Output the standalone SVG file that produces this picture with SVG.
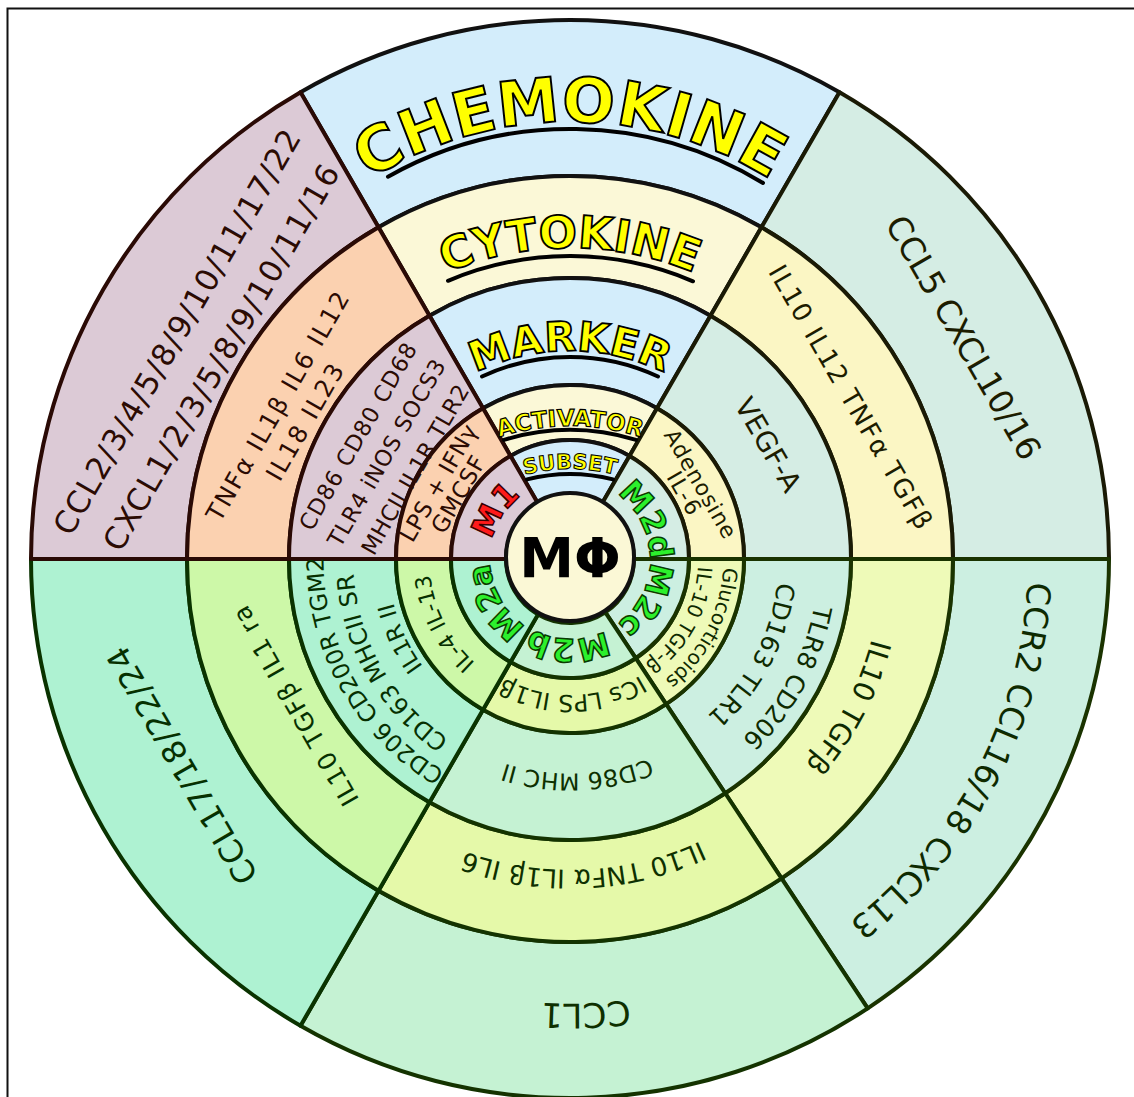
<svg xmlns="http://www.w3.org/2000/svg" width="1134" height="1097" viewBox="0 0 1134 1097">
<style>
.cell{stroke-width:4;stroke-linejoin:round}
.t{font-family:"DejaVu Sans","Liberation Sans",sans-serif;text-anchor:middle}
.hd{font-family:"DejaVu Sans","Liberation Sans",sans-serif;font-weight:bold;fill:#ffff00;stroke:#000;text-anchor:middle}
.ul{fill:none;stroke:#000;stroke-width:4;stroke-linecap:round}
.lab{font-family:"DejaVu Sans","Liberation Sans",sans-serif;font-weight:bold;font-size:32px;text-anchor:middle;stroke-width:1.5}
.lm1{fill:#ff1a1a;stroke:#3a0000}
.lm2{fill:#2cf02c;stroke:#0b3a00}
.cM1{fill:#2b0b03}.cM2d{fill:#1c1c00}.cM2a{fill:#063000}.cM2b{fill:#0e3000}.cM2c{fill:#0e2a00}
</style>
<defs>
<path id="pChem" d="M 192 500 A 378 378 0 0 1 948 500"/>
<path id="pCyto" d="M 250 568 A 320 320 0 0 1 890 568"/>
<path id="pMark" d="M 355 566 A 215 215 0 0 1 785 566"/>
<path id="pActi" d="M 340 656 A 230 230 0 0 1 800 656"/>
<path id="pSubs" d="M 390 649 A 180 180 0 0 1 750 649"/>
<path id="aM1" d="M 515.4 617.5 A 80 80 0 0 1 601.3 485.4"/>
<path id="aM2d" d="M 546.6 482.5 A 80 80 0 0 1 618.1 622.9"/>
<path id="aM2c" d="M 619.3 496 A 80 80 0 0 1 545.3 635.1"/>
<path id="aM2b" d="M 648.5 574.3 A 80 80 0 0 1 491 571.5"/>
<path id="aM2a" d="M 597.4 634.2 A 80 80 0 0 1 518.6 497.7"/>
<path id="a2aL1" d="M 652.3 791.4 A 246.6 246.6 0 0 1 413.1 368.7"/>
<path id="a2aL2" d="M 644.2 762.9 A 217 217 0 0 1 430.5 392.8"/>
<path id="a2aL3" d="M 617.1 734.8 A 182 182 0 0 1 465.6 409.9"/>
<path id="a2aAct" d="M 611.1 693.5 A 140.7 140.7 0 0 1 485.3 446.6"/>
<path id="a2bChe" d="M 1010.3 620.9 A 444.6 444.6 0 0 1 135.1 651.4"/>
<path id="a2bCyt" d="M 878.3 599.6 A 311 311 0 0 1 266.4 626.3"/>
<path id="a2bMar" d="M 782.5 588.9 A 214.6 214.6 0 0 1 360.1 603.6"/>
<path id="a2bAct" d="M 704.3 580.3 A 136 136 0 0 1 436.5 585"/>
<path id="a2cChe" d="M 850.1 196.6 A 458 458 0 0 1 430.8 995.3"/>
<path id="a2cCyt" d="M 762.1 313.1 A 312 312 0 0 1 473.6 855.7"/>
<path id="a2cMar1" d="M 724.7 364.5 A 248.5 248.5 0 0 1 491.1 794.7"/>
<path id="a2cMar2" d="M 697.5 394 A 208.5 208.5 0 0 1 506.6 757.6"/>
<path id="a2cAct1" d="M 663.4 437.3 A 153.4 153.4 0 0 1 523.9 705.3"/>
<path id="a2cAct2" d="M 650.6 459.5 A 128 128 0 0 1 528.3 680"/>
</defs>
<rect width="1134" height="1097" fill="#ffffff"/>
<rect x="7.5" y="8.5" width="1140" height="1100" fill="none" stroke="#111" stroke-width="2"/>

<g id="sector-header" class="cell" stroke="#111">
<path fill="#d3edfb" d="M 300.5 92.23 A 539 539 0 0 1 839.5 92.23 L 761.5 227.32 A 383 383 0 0 0 378.5 227.32 Z"/>
<path fill="#fbf8d7" d="M 378.5 227.32 A 383 383 0 0 1 761.5 227.32 L 710.5 315.65 A 281 281 0 0 0 429.5 315.65 Z"/>
<path fill="#d3edfb" d="M 429.5 315.65 A 281 281 0 0 1 710.5 315.65 L 657 408.31 A 174 174 0 0 0 483 408.31 Z"/>
<path fill="#fbf8d7" d="M 483 408.31 A 174 174 0 0 1 657 408.31 L 629.5 455.94 A 119 119 0 0 0 510.5 455.94 Z"/>
<path fill="#d3edfb" d="M 510.5 455.94 A 119 119 0 0 1 629.5 455.94 L 602 503.57 A 64 64 0 0 0 538 503.57 Z"/>
</g>
<g id="sector-m2d" class="cell" stroke="#1a1a05">
<path fill="#d5ede4" d="M 839.5 92.23 A 539 539 0 0 1 1109 559 L 953 559 A 383 383 0 0 0 761.5 227.32 Z"/>
<path fill="#fbf6c4" d="M 761.5 227.32 A 383 383 0 0 1 953 559 L 851 559 A 281 281 0 0 0 710.5 315.65 Z"/>
<path fill="#d5ede4" d="M 710.5 315.65 A 281 281 0 0 1 851 559 L 744 559 A 174 174 0 0 0 657 408.31 Z"/>
<path fill="#fbf6c4" d="M 657 408.31 A 174 174 0 0 1 744 559 L 689 559 A 119 119 0 0 0 629.5 455.94 Z"/>
<path fill="#d5ede4" d="M 629.5 455.94 A 119 119 0 0 1 689 559 L 634 559 A 64 64 0 0 0 602 503.57 Z"/>
</g>
<g id="sector-m2c" class="cell" stroke="#1a3300">
<path fill="#ccefe1" d="M 1109 559 A 539 539 0 0 1 867.69 1008.36 L 781.53 878.31 A 383 383 0 0 0 953 559 Z"/>
<path fill="#eefab8" d="M 953 559 A 383 383 0 0 1 781.53 878.31 L 725.2 793.27 A 281 281 0 0 0 851 559 Z"/>
<path fill="#ccefe1" d="M 851 559 A 281 281 0 0 1 725.2 793.27 L 666.1 704.06 A 174 174 0 0 0 744 559 Z"/>
<path fill="#eefab8" d="M 744 559 A 174 174 0 0 1 666.1 704.06 L 635.72 658.21 A 119 119 0 0 0 689 559 Z"/>
<path fill="#ccefe1" d="M 689 559 A 119 119 0 0 1 635.72 658.21 L 605.35 612.36 A 64 64 0 0 0 634 559 Z"/>
</g>
<g id="sector-m2b" class="cell" stroke="#143300">
<path fill="#c5f2d3" d="M 867.69 1008.36 A 539 539 0 0 1 300.5 1025.77 L 378.5 890.68 A 383 383 0 0 0 781.53 878.31 Z"/>
<path fill="#e5f9a9" d="M 781.53 878.31 A 383 383 0 0 1 378.5 890.68 L 429.5 802.35 A 281 281 0 0 0 725.2 793.27 Z"/>
<path fill="#c5f2d3" d="M 725.2 793.27 A 281 281 0 0 1 429.5 802.35 L 483 709.69 A 174 174 0 0 0 666.1 704.06 Z"/>
<path fill="#e5f9a9" d="M 666.1 704.06 A 174 174 0 0 1 483 709.69 L 510.5 662.06 A 119 119 0 0 0 635.72 658.21 Z"/>
<path fill="#c5f2d3" d="M 635.72 658.21 A 119 119 0 0 1 510.5 662.06 L 538 614.43 A 64 64 0 0 0 605.35 612.36 Z"/>
</g>
<g id="sector-m2a" class="cell" stroke="#0a3300">
<path fill="#aef2d2" d="M 300.5 1025.77 A 539 539 0 0 1 31 559 L 187 559 A 383 383 0 0 0 378.5 890.68 Z"/>
<path fill="#cdf8a8" d="M 378.5 890.68 A 383 383 0 0 1 187 559 L 289 559 A 281 281 0 0 0 429.5 802.35 Z"/>
<path fill="#aef2d2" d="M 429.5 802.35 A 281 281 0 0 1 289 559 L 396 559 A 174 174 0 0 0 483 709.69 Z"/>
<path fill="#cdf8a8" d="M 483 709.69 A 174 174 0 0 1 396 559 L 451 559 A 119 119 0 0 0 510.5 662.06 Z"/>
<path fill="#aef2d2" d="M 510.5 662.06 A 119 119 0 0 1 451 559 L 506 559 A 64 64 0 0 0 538 614.43 Z"/>
</g>
<g id="sector-m1" class="cell" stroke="#2a0a05">
<path fill="#dccad6" d="M 31 559 A 539 539 0 0 1 300.5 92.23 L 378.5 227.32 A 383 383 0 0 0 187 559 Z"/>
<path fill="#fbd1b0" d="M 187 559 A 383 383 0 0 1 378.5 227.32 L 429.5 315.65 A 281 281 0 0 0 289 559 Z"/>
<path fill="#dccad6" d="M 289 559 A 281 281 0 0 1 429.5 315.65 L 483 408.31 A 174 174 0 0 0 396 559 Z"/>
<path fill="#fbd1b0" d="M 396 559 A 174 174 0 0 1 483 408.31 L 510.5 455.94 A 119 119 0 0 0 451 559 Z"/>
<path fill="#dccad6" d="M 451 559 A 119 119 0 0 1 510.5 455.94 L 538 503.57 A 64 64 0 0 0 506 559 Z"/>
</g>

<g id="labels-header">
<text class="hd" font-size="62" letter-spacing="0.5" stroke-width="2"><textPath href="#pChem" startOffset="50%">CHEMOKINE</textPath></text>
<path class="ul" d="M 388 176.7 A 371 371 0 0 1 763 183"/>
<text class="hd" font-size="45" stroke-width="1.8"><textPath href="#pCyto" startOffset="50%">CYTOKINE</textPath></text>
<path class="ul" d="M 448 280.8 A 313 313 0 0 1 693 281.3"/>
<text class="hd" font-size="41" stroke-width="1.8"><textPath href="#pMark" startOffset="50%">MARKER</textPath></text>
<path class="ul" d="M 482 376.5 A 208 208 0 0 1 658 376.5"/>
<text class="hd" font-size="23" stroke-width="1.2"><textPath href="#pActi" startOffset="50%">ACTIVATOR</textPath></text>
<path class="ul" d="M 504 439.9 A 226 226 0 0 1 636 439.9" stroke-width="3"/>
<text class="hd" font-size="21" stroke-width="1"><textPath href="#pSubs" startOffset="50%">SUBSET</textPath></text>
<path class="ul" d="M 527 479.4 A 175 175 0 0 1 613 479.4" stroke-width="2.5"/>
</g>

<g id="labels-m1" class="t cM1" transform="translate(570 559) rotate(-60)">
<text x="0" y="-443" font-size="31" textLength="462" lengthAdjust="spacing">CCL2/3/4/5/8/9/10/11/17/22</text>
<text x="0" y="-392" font-size="31" textLength="440" lengthAdjust="spacing">CXCL1/2/3/5/8/9/10/11/16</text>
<text x="-14" y="-321" font-size="24.5" textLength="260" lengthAdjust="spacing">TNFα IL1β IL6 IL12</text>
<text x="-14" y="-289.5" font-size="24.5" textLength="130" lengthAdjust="spacing">IL18 IL23</text>
<text x="0" y="-237" font-size="22.5" textLength="212" lengthAdjust="spacing">CD86 CD80 CD68</text>
<text x="0" y="-204" font-size="22.5" textLength="212" lengthAdjust="spacing">TLR4 iNOS SOCS3</text>
<text x="0" y="-171" font-size="22.5" textLength="192" lengthAdjust="spacing">MHCII IL1R TLR2</text>
<text x="0" y="-144" font-size="23" textLength="131" lengthAdjust="spacing">LPS + IFNγ</text>
<text x="0" y="-121" font-size="23" textLength="85" lengthAdjust="spacing">GMCSF</text>
</g>
<text class="lab lm1"><textPath href="#aM1" startOffset="50%">M1</textPath></text>

<g id="labels-m2d" class="t cM2d" transform="translate(570 559) rotate(60)">
<text x="5" y="-440" font-size="33">CCL5 CXCL10/16</text>
<text x="0" y="-315" font-size="26" textLength="300" lengthAdjust="spacing">IL10 IL12 TNFα TGFβ</text>
<text x="0" y="-219" font-size="28">VEGF-A</text>
<text x="0" y="-143" font-size="22" textLength="122" lengthAdjust="spacing">Adenosine</text>
<text x="0" y="-124" font-size="22" textLength="46" lengthAdjust="spacing">IL-6</text>
</g>
<text class="lab lm2"><textPath href="#aM2d" startOffset="50%">M2d</textPath></text>

<g id="labels-m2a" class="t cM2a">
<g transform="translate(570 559) rotate(240)">
<text x="15" y="-428" font-size="32" textLength="268" lengthAdjust="spacing">CCL17/18/22/24</text>
<text x="10" y="-302.5" font-size="25" textLength="226" lengthAdjust="spacing">IL10 TGFβ IL1 ra</text>
</g>
<text font-size="23.5"><textPath href="#a2aL1" startOffset="50%">CD206 CD200R TGM2</textPath></text>
<text font-size="24"><textPath href="#a2aL2" startOffset="50%">CD163 MHCII SR</textPath></text>
<text font-size="23"><textPath href="#a2aL3" startOffset="50%">IL1R II</textPath></text>
<text font-size="22"><textPath href="#a2aAct" startOffset="50%">IL-4 IL-13</textPath></text>
</g>
<text class="lab lm2"><textPath href="#aM2a" startOffset="50%">M2a</textPath></text>

<g id="labels-m2b" class="t cM2b">
<text font-size="34"><textPath href="#a2bChe" startOffset="50%">CCL1</textPath></text>
<text font-size="26"><textPath href="#a2bCyt" startOffset="50%">IL10 TNFα IL1β IL6</textPath></text>
<text font-size="23.5"><textPath href="#a2bMar" startOffset="50%">CD86 MHC II</textPath></text>
<text font-size="23.5"><textPath href="#a2bAct" startOffset="50%">ICs LPS IL1β</textPath></text>
</g>
<text class="lab lm2"><textPath href="#aM2b" startOffset="50%">M2b</textPath></text>

<g id="labels-m2c" class="t cM2c">
<text font-size="33"><textPath href="#a2cChe" startOffset="50%">CCR2 CCL16/18 CXCL13</textPath></text>
<text font-size="28.5"><textPath href="#a2cCyt" startOffset="50%">IL10 TGFβ</textPath></text>
<text font-size="25"><textPath href="#a2cMar1" startOffset="50%">TLR8 CD206</textPath></text>
<text font-size="25"><textPath href="#a2cMar2" startOffset="50%">CD163 TLR1</textPath></text>
<text font-size="20"><textPath href="#a2cAct1" startOffset="50%">Glucorticoids</textPath></text>
<text font-size="20"><textPath href="#a2cAct2" startOffset="50%">IL-10 TGF-β</textPath></text>
</g>
<text class="lab lm2"><textPath href="#aM2c" startOffset="50%">M2c</textPath></text>

<g id="center">
<circle cx="570" cy="557" r="64" fill="#fbf8d6" stroke="#111" stroke-width="4"/>
<text x="570" y="577" font-family="DejaVu Sans, sans-serif" font-weight="bold" font-size="55" text-anchor="middle" fill="#000">MΦ</text>
</g>
</svg>
